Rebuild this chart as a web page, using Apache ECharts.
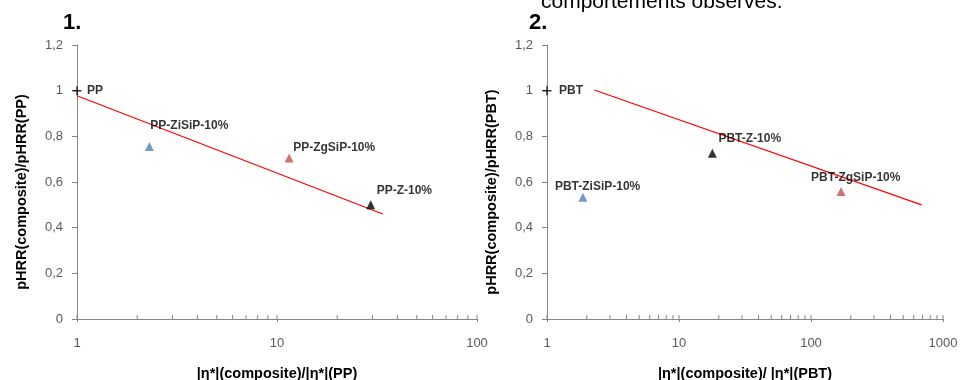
<!DOCTYPE html>
<html>
<head>
<meta charset="utf-8">
<script src="https://cdn.jsdelivr.net/npm/echarts@6/dist/echarts.min.js"></script>
<style>html,body{margin:0;padding:0;background:#fff;}#c{width:961px;height:380px;}</style>
</head>
<body>
<div id="c"></div>
<script>
// ---- data ----
const ppNames = ['PP', 'PP-ZiSiP-10%', 'PP-ZgSiP-10%', 'PP-Z-10%'];
const ppX = [1, 2.3, 11.5, 29.4];
const ppY = [1, 0.755, 0.705, 0.50];
const ppTrendX = [1, 33.8];
const ppTrendY = [0.978, 0.46];

const pbtNames = ['PBT', 'PBT-ZiSiP-10%', 'PBT-Z-10%', 'PBT-ZgSiP-10%'];
const pbtX = [1, 1.87, 17.9, 169];
const pbtY = [1, 0.533, 0.726, 0.558];
const pbtTrendX = [2.28, 689];
const pbtTrendY = [1.003, 0.50];

const xTicks1 = [1, 2, 3, 4, 5, 6, 7, 8, 9, 10, 20, 30, 40, 50, 60, 70, 80, 90, 100];
const xTicks2 = [1, 2, 3, 4, 5, 6, 7, 8, 9, 10, 20, 30, 40, 50, 60, 70, 80, 90, 100,
                 200, 300, 400, 500, 600, 700, 800, 900, 1000];
const yTickLabels = ['0', '0,2', '0,4', '0,6', '0,8', '1', '1,2'];

// ---- styles ----
const BLUE = '#4F81BD', RED = '#C0504D', BLACK = '#000000';
const PLUS = 'path://M-4,0L4,0M0,-4L0,4';
const TRI = 'triangle';
const ppStyle = [
  {color: BLACK, symbol: PLUS, size: 9, off: [10, 0]},
  {color: BLUE, symbol: TRI, size: 9, off: [1, -21]},
  {color: RED, symbol: TRI, size: 9, off: [4, -10]},
  {color: BLACK, symbol: TRI, size: 9, off: [6, -14]}
];
const pbtStyle = [
  {color: BLACK, symbol: PLUS, size: 9, off: [12, 0]},
  {color: BLUE, symbol: TRI, size: 9, off: [-28, -11]},
  {color: BLACK, symbol: TRI, size: 9, off: [6, -15]},
  {color: RED, symbol: TRI, size: 9, off: [-30, -14]}
];

const FONT = 'Liberation Sans, Arial, sans-serif';
const AXIS_COLOR = '#868686';
const LABEL_COLOR = '#595959';

function pts(names, xs, ys, styles) {
  return names.map((n, i) => {
    const s = styles[i];
    const isPlus = s.symbol === PLUS;
    return {
      name: n,
      value: [xs[i], ys[i]],
      symbol: s.symbol,
      symbolSize: s.size,
      itemStyle: isPlus ? {color: 'none', borderColor: s.color, borderWidth: 1.5}
                        : {color: s.color, borderWidth: 0},
      label: {
        show: true, formatter: n, position: 'inside', align: 'left',
        verticalAlign: 'middle', offset: s.off,
        color: '#000', fontFamily: FONT, fontWeight: 'bold', fontSize: 12
      }
    };
  });
}

function line(xs, ys) { return xs.map((x, i) => [x, ys[i]]); }

function tickRender(params, api) {
  const p = api.coord([api.value(0), 0]);
  return {
    type: 'line',
    shape: {x1: p[0], y1: p[1], x2: p[0], y2: p[1] - 4},
    style: {stroke: AXIS_COLOR, lineWidth: 1}
  };
}

function yAxis(idx, name) {
  return {
    type: 'value', gridIndex: idx, min: 0, max: 1.2, interval: 0.2,
    name: name, nameLocation: 'middle', nameGap: 48,
    nameTextStyle: {fontFamily: FONT, fontWeight: 'bold', fontSize: 14.5, color: '#000', padding: [0, 20, 0, 0]},
    axisLine: {show: true, lineStyle: {color: AXIS_COLOR}},
    axisTick: {show: true, length: 5, lineStyle: {color: AXIS_COLOR}},
    splitLine: {show: false},
    axisLabel: {
      margin: 14, color: LABEL_COLOR, fontFamily: FONT, fontSize: 13,
      formatter: v => yTickLabels[Math.round(v / 0.2)]
    }
  };
}

function xAxis(idx, max, name) {
  return {
    type: 'log', logBase: 10, gridIndex: idx, min: 1, max: max,
    name: name, nameLocation: 'middle', nameGap: 47,
    nameTextStyle: {fontFamily: FONT, fontWeight: 'bold', fontSize: 14.5, color: '#000'},
    axisLine: {show: true, onZero: false, lineStyle: {color: AXIS_COLOR}},
    axisTick: {show: true, length: 3, lineStyle: {color: AXIS_COLOR}},
    minorTick: {show: false},
    splitLine: {show: false},
    axisLabel: {margin: 18, color: LABEL_COLOR, fontFamily: FONT, fontSize: 13,
                formatter: v => String(Math.round(v))}
  };
}

const option = {
  animation: false,
  backgroundColor: '#fff',
  grid: [
    {left: 77, top: 45, width: 400, height: 274, containLabel: false, outerBoundsMode: 'none'},
    {left: 547, top: 45, width: 396, height: 274, containLabel: false, outerBoundsMode: 'none'}
  ],
  xAxis: [
    xAxis(0, 100, '|η*|(composite)/|η*|(PP)'),
    xAxis(1, 1000, '|η*|(composite)/ |η*|(PBT)')
  ],
  yAxis: [
    yAxis(0, 'pHRR(composite)/pHRR(PP)'),
    yAxis(1, 'pHRR(composite)/pHRR(PBT)')
  ],
  graphic: [
    {type: 'text', left: 63, top: 12, style: {text: '1.', font: 'bold 22px ' + FONT, fill: '#000'}},
    {type: 'text', left: 529, top: 12, style: {text: '2.', font: 'bold 22px ' + FONT, fill: '#000'}},
    {type: 'text', left: 541, top: -8, style: {text: 'comportements observés.', font: '21px ' + FONT, fill: '#000'}}
  ],
  series: [
    {type: 'custom', xAxisIndex: 0, yAxisIndex: 0, renderItem: tickRender, data: xTicks1.map(v => [v]), silent: true, clip: false, z: 1},
    {type: 'custom', xAxisIndex: 1, yAxisIndex: 1, renderItem: tickRender, data: xTicks2.map(v => [v]), silent: true, clip: false, z: 1},
    {type: 'line', xAxisIndex: 0, yAxisIndex: 0, data: line(ppTrendX, ppTrendY), symbol: 'none',
     lineStyle: {color: '#FF0000', width: 1.2}, z: 2},
    {type: 'line', xAxisIndex: 1, yAxisIndex: 1, data: line(pbtTrendX, pbtTrendY), symbol: 'none',
     lineStyle: {color: '#FF0000', width: 1.2}, z: 2},
    {type: 'scatter', xAxisIndex: 0, yAxisIndex: 0, data: pts(ppNames, ppX, ppY, ppStyle), z: 3, clip: false},
    {type: 'scatter', xAxisIndex: 1, yAxisIndex: 1, data: pts(pbtNames, pbtX, pbtY, pbtStyle), z: 3, clip: false}
  ]
};

const chart = echarts.init(document.getElementById('c'), null, {renderer: 'canvas'});
chart.setOption(option);
</script>
</body>
</html>
